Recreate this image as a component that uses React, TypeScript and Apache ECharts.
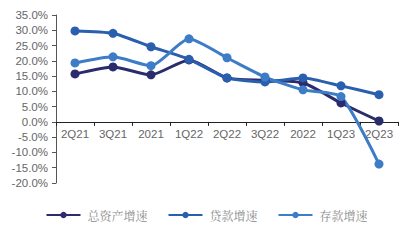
import React, { useEffect, useRef } from "react";
import * as echarts from "echarts";

const categories = ["2Q21", "3Q21", "2021", "1Q22", "2Q22", "3Q22", "2022", "1Q23", "2Q23"];
const totalAssets = [15.7, 18.0, 15.4, 20.3, 14.4, 13.6, 12.8, 6.2, 0.3];
const loans = [29.8, 29.0, 24.6, 20.5, 14.4, 13.1, 14.4, 11.8, 8.9];
const deposits = [19.3, 21.3, 18.4, 27.2, 21.0, 14.7, 10.5, 8.3, -13.8];
const seriesNames = ["总资产增速", "贷款增速", "存款增速"];
const colors = ["#2a2c6c", "#2a5fae", "#3d7cc6"];

export default function App() {
  const ref = useRef<HTMLDivElement>(null);
  useEffect(() => {
    document.body.style.margin = "0";
    if (!ref.current) return;
    const chart = echarts.init(ref.current, null, { renderer: "svg" });
    const mk = (name: string, data: number[], color: string) => ({
      name,
      type: "line",
      data,
      smooth: 0.2,
      symbol: "circle",
      symbolSize: 9,
      lineStyle: { width: 3, color },
      itemStyle: { color },
    });
    chart.setOption({
      animation: false,
      grid: { left: 56, right: 15, top: 15, bottom: 57 },
      legend: {
        bottom: 14,
        left: "center",
        itemWidth: 34,
        itemHeight: 8,
        itemGap: 20,
        textStyle: { color: "#8a8a8a", fontSize: 12, fontFamily: "Noto Serif CJK SC, Noto Sans CJK SC", padding: [0, 0, 0, 2] },
        data: seriesNames,
      },
      xAxis: {
        type: "category",
        data: categories,
        boundaryGap: true,
        axisLine: { onZero: true, lineStyle: { color: "#222", width: 1 } },
        axisTick: { show: true, inside: false, length: 4, lineStyle: { color: "#222" } },
        axisLabel: { color: "#666", fontSize: 11.5, fontFamily: "Liberation Sans, Arial", margin: -55 },
      },
      yAxis: {
        type: "value",
        min: -20,
        max: 35,
        interval: 5,
        splitLine: { show: false },
        axisLine: { show: true, lineStyle: { color: "#555" } },
        axisTick: { show: true, length: 4, lineStyle: { color: "#555" } },
        axisLabel: {
          color: "#666",
          fontSize: 11.5,
          fontFamily: "Liberation Sans, Arial",
          margin: 8,
          formatter: (v: number) => v.toFixed(1) + "%",
        },
      },
      series: [
        mk(seriesNames[0], totalAssets, colors[0]),
        mk(seriesNames[1], loans, colors[1]),
        mk(seriesNames[2], deposits, colors[2]),
      ],
    });
    return () => chart.dispose();
  }, []);
  return <div ref={ref} style={{ width: 413, height: 240 }} />;
}
